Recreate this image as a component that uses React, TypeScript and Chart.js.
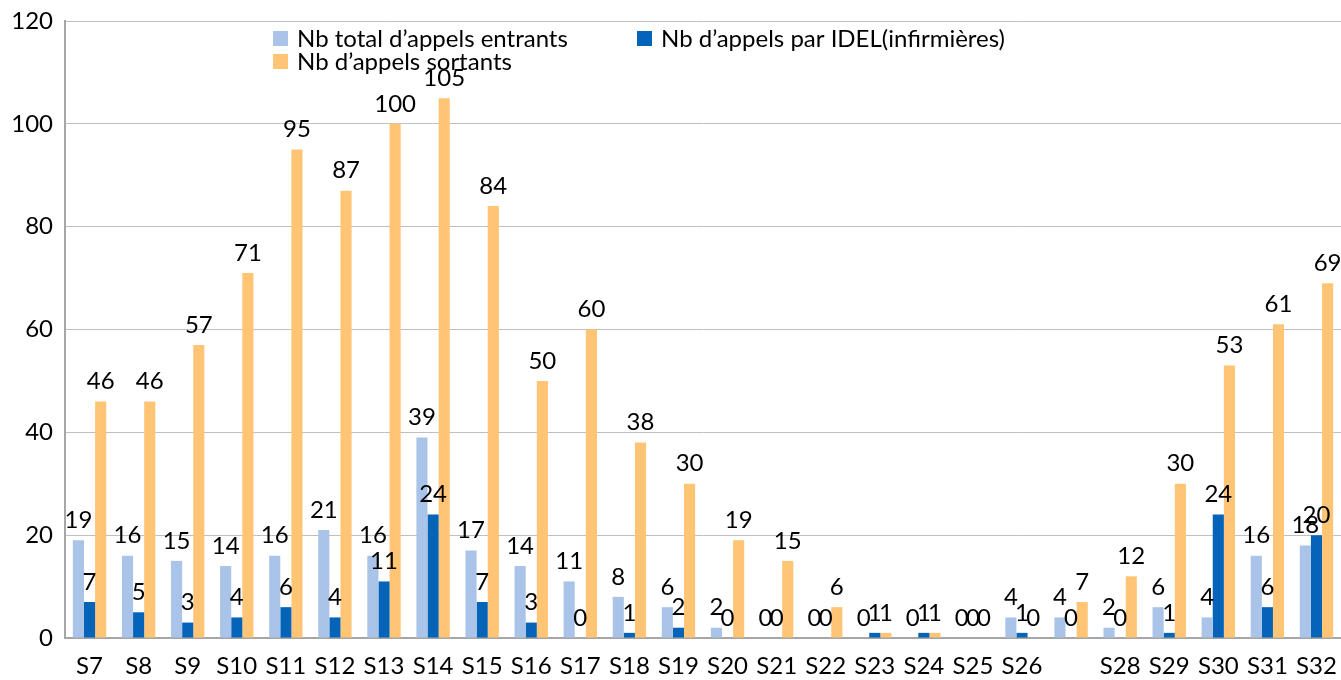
import React, { useEffect, useRef } from "react";
import { Chart, registerables } from "chart.js";

Chart.register(...registerables);

const categories = ["S7","S8","S9","S10","S11","S12","S13","S14","S15","S16","S17","S18","S19","S20","S21","S22","S23","S24","S25","S26","","S28","S29","S30","S31","S32"];
const entrants = [19,16,15,14,16,21,16,39,17,14,11,8,6,2,0,0,0,0,0,4,4,2,6,4,16,18];
const idel = [7,5,3,4,6,4,11,24,7,3,0,1,2,0,0,0,1,1,0,1,0,0,1,24,6,20];
const sortants = [46,46,57,71,95,87,100,105,84,50,60,38,30,19,15,6,1,1,0,0,7,12,30,53,61,69];
const seriesNames = ["Nb total d\u2019appels entrants", "Nb d\u2019appels par IDEL(infirmi\u00e8res)", "Nb d\u2019appels sortants"];
const colors = ["#A9C4E8", "#0563B8", "#FFC574"];
const yTicks = { min: 0, max: 120, step: 20 };

const FONT = "Lato, 'Open Sans', sans-serif";
const FS = 24;

const valueLabels = {
  id: "valueLabels",
  afterDatasetsDraw(chart: any) {
    const ctx = chart.ctx;
    ctx.save();
    ctx.font = `${FS}px ${FONT}`;
    ctx.fillStyle = "#000";
    ctx.textAlign = "center";
    ctx.textBaseline = "middle";
    chart.data.datasets.forEach((ds: any, i: number) => {
      const meta = chart.getDatasetMeta(i);
      meta.data.forEach((el: any, j: number) => {
        ctx.fillText(String(ds.data[j]), el.x, el.y - 20);
      });
    });
    ctx.restore();
  },
};

const customLegend = {
  id: "customLegend",
  afterDraw(chart: any) {
    const ctx = chart.ctx;
    ctx.save();
    ctx.font = `${FS}px ${FONT}`;
    ctx.textAlign = "left";
    ctx.textBaseline = "middle";
    const items = [
      { i: 0, x: 273, y: 38 },
      { i: 1, x: 637, y: 38 },
      { i: 2, x: 273, y: 61 },
    ];
    items.forEach((it) => {
      ctx.fillStyle = colors[it.i];
      ctx.fillRect(it.x, it.y - 7, 15, 15);
      ctx.fillStyle = "#000";
      ctx.fillText(seriesNames[it.i], it.x + 24, it.y + 1);
    });
    ctx.restore();
  },
};

export default function App() {
  const ref = useRef<HTMLCanvasElement>(null);
  useEffect(() => {
    if (!ref.current) return;
    const chart = new Chart(ref.current, {
      type: "bar",
      data: {
        labels: categories,
        datasets: [entrants, idel, sortants].map((d, i) => ({
          label: seriesNames[i],
          data: d,
          backgroundColor: colors[i],
          borderWidth: 0,
          barPercentage: 1,
          categoryPercentage: 0.68,
        })),
      },
      options: {
        animation: false,
        responsive: false,
        devicePixelRatio: 1,
        layout: { padding: { top: 21, right: 0, left: 0, bottom: 0 } },
        plugins: { legend: { display: false }, tooltip: { enabled: false } },
        scales: {
          x: {
            grid: { display: false },
            border: { color: "#A6A6A6", width: 2 },
            ticks: { font: { family: FONT, size: FS }, color: "#000", padding: 6, maxRotation: 0, autoSkip: false },
            afterFit(scale: any) { scale.height = 42; scale.paddingRight = 0; scale.paddingLeft = 0; },
          },
          y: {
            min: yTicks.min,
            max: yTicks.max,
            ticks: { stepSize: yTicks.step, font: { family: FONT, size: FS }, color: "#000", padding: 12 },
            grid: { color: "#BFBFBF", lineWidth: 1, drawTicks: false },
            border: { color: "#A6A6A6", width: 2 },
            afterFit(scale: any) { scale.width = 65; scale.paddingTop = 0; scale.paddingBottom = 0; },
          },
        },
      },
      plugins: [valueLabels, customLegend],
    });
    return () => chart.destroy();
  }, []);
  return (
    <div style={{ position: "absolute", left: 0, top: 0, width: 1341, height: 680 }}>
      <canvas ref={ref} width={1341} height={680} />
    </div>
  );
}
